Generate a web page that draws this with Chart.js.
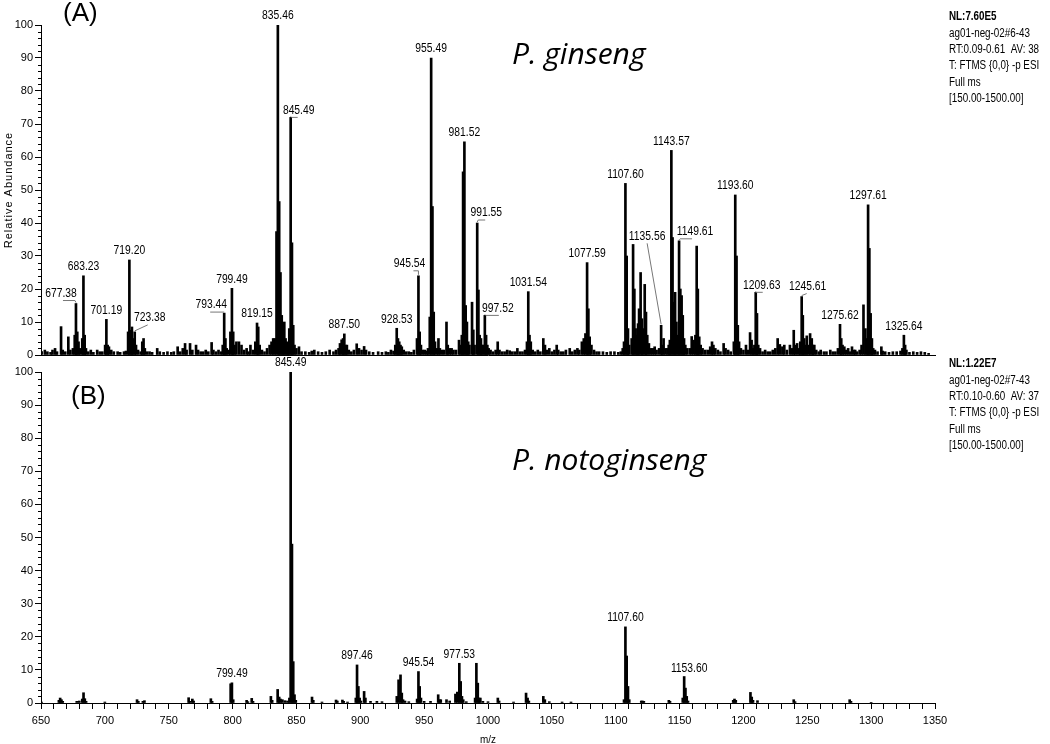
<!DOCTYPE html>
<html>
<head>
<meta charset="utf-8">
<script src="https://cdn.jsdelivr.net/npm/chart.js@4.4.1/dist/chart.umd.min.js"></script>
<style>
body{margin:0;background:#fff;}
#wrap{position:relative;width:1050px;height:744px;}
canvas{position:absolute;left:0;top:0;}
</style>
</head>
<body>
<div id="wrap">
<canvas id="specA" width="1050" height="744"></canvas>
<canvas id="specB" width="1050" height="744"></canvas>
</div>
<script>
//---------------- data [m/z, relative abundance] ----------------
var peaksA = [[650.5,1],[653,1.5],[655,1],[657.5,0.8],[659,1.5],[661,2],[662.5,1],[665.7,8.6],[667,1.5],[669,1],[671.4,5.5],[673,1.5],[675,2],[676.4,6],[677.38,15.6],[678.4,7],[679.4,4],[680.5,2],[682.3,5],[683.23,24],[684.2,6],[685.2,2],[687,1],[689,1.5],[691,0.8],[694,1.5],[696,1],[698,1],[700.2,3],[701.19,10.8],[702.2,3],[703.2,2.5],[705,1.5],[707,1],[710,1],[712,0.8],[715,1],[716.5,1.2],[718.2,7],[719.2,28.8],[720.2,7.5],[721.2,8.5],[722.2,5],[723.38,7],[724.4,3],[726,1.5],[728,1],[729.3,4],[730.3,5],[731.3,2],[733,1],[735,1],[737,0.8],[741,2],[743,1],[746,0.8],[749,1],[752,0.8],[754,1],[757,2.5],[759,1],[761,2],[762.8,3.5],[764,1.5],[766.7,3.5],[768.5,1.5],[771.4,3],[773,1.5],[775,1],[777,1],[779,1.5],[781,1],[783.6,3.8],[785,1.5],[787,1],[789,1.5],[791,1],[792.3,3],[793.44,12.7],[794.4,5],[795.4,2],[797,1.5],[798.3,7],[799.49,20.2],[800.5,7],[801.5,3],[803,4],[805,4],[807,3],[809,1.5],[811,2],[812.5,1],[814,3],[816,1.5],[817.8,4],[819.15,9.7],[820.1,8.5],[821.2,3],[823,1.5],[825,1],[827,2],[829,3],[830.5,4],[831.8,5],[833,5],[834.4,37.4],[835.46,100],[836.5,46.5],[837.5,25],[838.5,12],[839.5,6],[840.5,10],[841.5,5],[842.5,4],[843.5,2],[844.4,8],[845.49,72],[846.5,34],[847.5,9],[848.5,3],[850,2],[852,2.5],[854,1],[857,1],[860,0.8],[862,1.2],[864,1.5],[867,1],[870,0.8],[873,1],[876,1.5],[879,1],[881,1.5],[883,2],[884.1,3.5],[885.4,4.6],[886.5,5],[887.5,6.4],[888.5,3],[889.5,3],[891,1.5],[893,1],[895,1.5],[897.2,3.4],[899,2],[901,1.5],[903,2.6],[904.5,1.5],[907,1],[910,0.8],[914,1],[917,0.8],[920,1],[922,0.8],[924,1.5],[926,1.2],[927.4,3],[928.53,8.1],[929.5,5],[930.5,4],[931.5,3],[932.5,2.5],[934,1.5],[936,1],[938,1],[940,0.8],[942,1.5],[944.4,5],[945.54,24],[946.5,7],[947.5,3],[949,1.5],[950.5,1.5],[952,1.2],[953,2],[954.4,11.5],[955.49,90],[956.5,45],[957.5,13],[958.5,4],[960,2],[961.2,5],[962.3,2],[964,1.5],[965.5,1.5],[967.5,10],[968.5,3],[970,2],[971.5,2],[973,1.5],[975,1.5],[977.3,4.5],[978.5,3],[979.5,6],[980.5,55.5],[981.52,64.6],[982.5,15],[983.5,10],[984.5,4],[985.5,3],[987.5,16],[988.5,7.6],[989.5,3],[991.55,40],[992.5,19.7],[993.5,6],[994.5,5],[995.5,3],[996.5,3],[997.52,12],[998.5,6],[999.5,3],[1000.5,2],[1002,1.5],[1004,1],[1006,1.5],[1007.6,4],[1009,1.5],[1011,1],[1013,1],[1015,1.5],[1017,1.3],[1019,1],[1021,1],[1023,2],[1025,1],[1027,1],[1029,1.5],[1030.5,4],[1031.54,19.2],[1032.5,6],[1033.5,4],[1035,1.5],[1037,1],[1039,1.5],[1041,1],[1043.3,5],[1044.6,3],[1046,1.5],[1048,2],[1050,1],[1052,1.5],[1053.8,3],[1055,1.5],[1057,1],[1059,1],[1061,1.5],[1064,2],[1066,1],[1068,1.5],[1070,2],[1071.5,1.5],[1073.5,4],[1075,5],[1076.3,6.5],[1077.59,28],[1078.6,14],[1079.6,5.5],[1081,3],[1083,1.5],[1085,1],[1087,1],[1090,1],[1093,0.8],[1096,1],[1099,1],[1102,0.8],[1104,1],[1105.5,2],[1106.5,4],[1107.6,52],[1108.6,30],[1109.6,8],[1110.6,3],[1112.5,5],[1113.6,33.5],[1114.6,20],[1115.6,8],[1116.6,6],[1117.5,9.5],[1118.3,14],[1119.5,25],[1120.5,11],[1121.5,8],[1122.7,21.4],[1123.7,13],[1124.7,6],[1126,3.5],[1127.5,2],[1129,2],[1130.5,2.5],[1132,1.5],[1134,2],[1135.56,9],[1136.5,3],[1137.5,5],[1139,2],[1140.5,2],[1141.5,3],[1142.4,4.5],[1143.57,62],[1144.5,35.6],[1145.5,16],[1146.5,19],[1147.5,10],[1148.5,6],[1149.61,34.6],[1150.6,20],[1151.6,18],[1152.5,12],[1153.5,5],[1154.5,3],[1156,2],[1158,2],[1159.5,5.6],[1161,4.5],[1162.4,6],[1163.4,33],[1164.3,20],[1165.4,5.5],[1166.5,3],[1168,2],[1170,1.5],[1172,1.5],[1174,2.5],[1175.4,4],[1176.5,3],[1178,2],[1180,1.5],[1182,1],[1184.5,3.5],[1186,2],[1188,1.5],[1190,1],[1192.5,4],[1193.6,48.5],[1194.6,30],[1195.6,9],[1196.6,4],[1198,2],[1200,1.5],[1202,3],[1203.5,1.5],[1205.2,6.8],[1206.4,4.5],[1207.5,2],[1208.6,3],[1209.63,19],[1210.6,12.6],[1211.6,3],[1213,2],[1215,1],[1217,1.5],[1219,1],[1221,1],[1223,1.5],[1225,2],[1226.8,5],[1228.5,3.2],[1230.5,2.5],[1232,3],[1234,1.5],[1236.4,3],[1238,2],[1239.4,7.5],[1240.5,3],[1242,3.5],[1243.5,2],[1244.5,4],[1245.61,17.7],[1246.5,12],[1247.6,5],[1248.6,3],[1249.6,5.8],[1251,3],[1252.2,6.5],[1253.5,5],[1254.5,3],[1255.5,3],[1257,1.5],[1259,1],[1260.5,1.5],[1263,1],[1265,1],[1268,1.5],[1270,1],[1272,1],[1274,2],[1275.62,9.3],[1276.6,5],[1277.6,3],[1279,2.5],[1280.5,1.5],[1282,2],[1283.5,1],[1285,2.5],[1286.5,1.5],[1287.5,1.5],[1289,1],[1291,1.5],[1292.5,3],[1294,15.2],[1295.5,8],[1296.5,5],[1297.61,45.5],[1298.6,32.3],[1299.6,12.6],[1300.6,5],[1301.6,2],[1303,1.5],[1305,1],[1308,2.5],[1309,1.2],[1311,1],[1314,0.8],[1317,1],[1320,1],[1323,1.2],[1324.5,2],[1325.64,6],[1326.6,3],[1327.6,1.5],[1330,0.8],[1333,1],[1336,0.8],[1339,1],[1342,0.8],[1345,0.5]];

var peaksB = [[650.5,0.3],[664,0.8],[665,1.5],[666,1],[667,0.5],[678,0.5],[680,0.6],[682.3,1.2],[683.3,3.1],[684.3,1.3],[685.3,0.5],[700,0.3],[725.2,1],[726.2,0.5],[729.8,0.5],[731,0.7],[765.6,1.6],[766.5,0.5],[768.5,1.2],[769.5,0.6],[783,1.3],[784,0.5],[798.5,5.8],[799.49,6.1],[800.5,1],[811,0.8],[812,0.4],[815,1.4],[816,0.5],[830,2],[831,0.8],[835.3,4.1],[836.5,1.8],[837.5,1.2],[839,1],[841,0.7],[843,0.6],[844.5,1.5],[845.49,100],[846.5,48],[847.5,12.5],[848.5,2.5],[849.5,0.8],[862.2,1.8],[863.2,0.8],[870,0.3],[881,0.9],[882,0.6],[886,0.9],[887,0.5],[890,0.3],[896.5,1.5],[897.46,11.5],[898.5,5],[899.5,1.5],[900.5,0.6],[903,3.5],[904,1.5],[908,0.5],[913,0.5],[917,0.4],[928.6,2],[930,7],[931.5,8.5],[932.5,3],[933.5,1],[935,0.6],[938,0.4],[944.5,1.2],[945.54,9.5],[946.5,5],[947.5,1.5],[950,0.5],[955,0.5],[961,2.5],[962,1],[963,1],[967.5,1],[970,0.6],[974.5,2.7],[976,3.3],[977.53,12],[978.6,6.5],[979.6,2],[980.6,1],[983,0.4],[989.9,1.5],[990.9,12],[992,6],[993,1.5],[994,1.5],[996,0.5],[1000,0.4],[1007.7,1.5],[1008.7,0.6],[1020,0.3],[1029.8,3],[1031,1.5],[1032,0.6],[1043.3,2],[1044.5,1],[1048,0.4],[1058,0.3],[1065,0.3],[1106.5,1],[1107.6,23],[1108.6,14.2],[1109.6,5],[1110.6,1],[1120,0.6],[1121,0.6],[1122,0.5],[1141.6,0.8],[1142.5,0.5],[1152.5,1.5],[1153.6,8],[1154.6,4.5],[1155.6,2],[1156.6,0.6],[1192,0.8],[1193,1.2],[1194,0.8],[1205.5,3.2],[1206.5,1.8],[1207.5,0.8],[1211,0.7],[1239.4,1],[1240.4,0.4],[1283.2,1],[1284.2,0.5],[1300,0.2]];

var labelsA = ['677.38','683.23','701.19','719.20','723.38','793.44','799.49','819.15','835.46','845.49','887.50','928.53','945.54','955.49','981.52','991.55','997.52','1031.54','1077.59','1107.60','1135.56','1143.57','1149.61','1193.60','1209.63','1245.61','1275.62','1297.61','1325.64'];
var labelsB = ['799.49','845.49','897.46','945.54','977.53','1107.60','1153.60'];

var infoA = ['NL:7.60E5','ag01-neg-02#6-43','RT:0.09-0.61  AV: 38','T: FTMS {0,0} -p ESI','Full ms','[150.00-1500.00]'];
var infoB = ['NL:1.22E7','ag01-neg-02#7-43','RT:0.10-0.60  AV: 37','T: FTMS {0,0} -p ESI','Full ms','[150.00-1500.00]'];

var xTickLabels = [650,700,750,800,850,900,950,1000,1050,1100,1150,1200,1250,1300,1350];
var yTickLabels = [0,10,20,30,40,50,60,70,80,90,100];

//---------------- label placement (offset from peak top, leader underline span) ----------------
var placeA = {
    '677.38': {dx:-15, dy:-10, u:[2,14]},
    '723.38': {dx:15, dy:-14, u:[-2,-2]},
    '793.44': {dx:-13, dy:-8, u:[-1,12]},
    '845.49': {dx:8, dy:-7, u:[-7,-1]},
    '945.54': {dx:-9, dy:-12, u:[4,9]},
    '991.55': {dx:9, dy:-10, u:[-8,-1]},
    '997.52': {dx:13, dy:-7, u:[-12,1]},
    '1135.56': {dx:-14, dy:-89, u:[0,0]},
    '1149.61': {dx:16, dy:-9, u:[-15,-3]},
    '1209.63': {dx:6, dy:-7, u:[-6,1]},
    '1245.61': {dx:6, dy:-10, u:[-1,-1]}
};
var placeB = {
    '1153.60': {dx:5, dy:-8}
};

var SANS = "'Liberation Sans', Arial, sans-serif";

function toPoints(p) {
    return p.map(function (d) { return {x: d[0], y: d[1]}; });
}

// text squeezed sideways, the spectrum software uses a narrow font
function narrowText(ctx, txt, x, y, sx) {
    ctx.save();
    ctx.translate(x, y);
    ctx.scale(sx, 1);
    ctx.fillText(txt, 0, 0);
    ctx.restore();
}

// draws everything Chart.js has no option for: minor ticks, peak labels, side notes
function specLayer(cfg) {
    return {
        id: 'spec' + cfg.tag,
        afterDraw: function (chart) {
            var ctx = chart.ctx, xs = chart.scales.x, ys = chart.scales.y, a = chart.chartArea;
            var pts = chart.data.datasets[0].data;
            ctx.save();
            ctx.strokeStyle = '#000';
            ctx.lineWidth = 1;
            for (var v = 2; v < 100; v += 2) {
                if (v % 10 === 0) continue;
                var yy = Math.round(ys.getPixelForValue(v)) + 0.5;
                ctx.beginPath();
                ctx.moveTo(a.left - 3, yy);
                ctx.lineTo(a.left, yy);
                ctx.stroke();
            }

            // peak labels
            ctx.font = '12px ' + SANS;
            ctx.textAlign = 'center';
            ctx.textBaseline = 'middle';
            ctx.fillStyle = '#000';
            cfg.labels.forEach(function (txt) {
                var mz = parseFloat(txt), best = pts[0];
                pts.forEach(function (p) { if (Math.abs(p.x - mz) < Math.abs(best.x - mz)) best = p; });
                var px = xs.getPixelForValue(best.x), py = ys.getPixelForValue(best.y);
                var pl = cfg.place[txt] || {dx: 0, dy: -9};
                var tx = px + pl.dx, ty = py + pl.dy;
                narrowText(ctx, txt, tx, ty, 0.86);
                if (pl.u) {
                    ctx.strokeStyle = '#777';
                    var uy = ty + 7;
                    var u0 = tx + pl.u[0], u1 = tx + pl.u[1];
                    var near = Math.abs(u0 - px) < Math.abs(u1 - px) ? u0 : u1;
                    ctx.beginPath();
                    ctx.moveTo(u0, uy);
                    ctx.lineTo(u1, uy);
                    ctx.moveTo(near, uy);
                    ctx.lineTo(px, py - 1);
                    ctx.stroke();
                }
            });

            // instrument notes at the right
            ctx.textAlign = 'left';
            ctx.fillStyle = '#000';
            cfg.info.forEach(function (line, i) {
                ctx.font = (i === 0 ? 'bold ' : '') + '12px ' + SANS;
                narrowText(ctx, line, 949, cfg.infoTop + i * 16.3, 0.82);
            });

            // panel tag and species name
            ctx.textBaseline = 'alphabetic';
            ctx.font = '26px ' + SANS;
            ctx.fillText(cfg.tagText, cfg.tagX, cfg.tagY);
            ctx.font = "italic 30px 'Open Sans', sans-serif";
            ctx.fillText(cfg.species, 512, cfg.speciesY);

            if (cfg.tag === 'A') {
                ctx.save();
                ctx.translate(9, 190);
                ctx.rotate(-Math.PI / 2);
                ctx.textAlign = 'center';
                ctx.textBaseline = 'middle';
                ctx.font = '11px ' + SANS;
                ctx.letterSpacing = '1px';
                ctx.fillText('Relative Abundance', 0, 0);
                ctx.restore();
            } else {
                ctx.textAlign = 'center';
                ctx.textBaseline = 'middle';
                ctx.font = '11px ' + SANS;
                narrowText(ctx, 'm/z', (a.left + a.right) / 2, 740, 0.9);
            }
            ctx.restore();
        }
    };
}

function makeChart(id, peaks, cfg, bottomAxis) {
    var c = document.getElementById(id);
    var xScale = {
        type: 'linear', min: 650, max: 1350, offset: false,
        border: {display: true, color: '#000', width: 1},
        grid: {display: true, drawOnChartArea: false, offset: false, drawTicks: bottomAxis, tickLength: 6, color: '#000'},
        ticks: {
            display: bottomAxis, stepSize: 10, autoSkip: false, maxRotation: 0, padding: 5,
            color: '#000', font: {family: SANS, size: 11},
            callback: function (v) { return xTickLabels.indexOf(v) >= 0 ? String(v) : ''; }
        },
        afterFit: function (s) { s.height = bottomAxis ? 41 : 0; }
    };
    var yScale = {
        min: 0, max: 100,
        border: {display: true, color: '#000', width: 1},
        grid: {display: true, drawOnChartArea: false, drawTicks: true, tickLength: 6, color: '#000'},
        ticks: {
            stepSize: 10, padding: 2, color: '#000', font: {family: SANS, size: 11},
            callback: function (v) { return yTickLabels.indexOf(v) >= 0 ? String(v) : ''; }
        },
        afterFit: function (s) { s.width = 41; }
    };
    return new Chart(c, {
        type: 'bar',
        data: {
            datasets: [{
                data: toPoints(peaks),
                backgroundColor: '#000',
                borderWidth: 0,
                barThickness: 2
            }]
        },
        options: {
            responsive: false,
            animation: false,
            devicePixelRatio: 1,
            layout: {padding: cfg.padding},
            plugins: {legend: {display: false}, tooltip: {enabled: false}, title: {display: false}},
            scales: {x: xScale, y: yScale}
        },
        plugins: [specLayer(cfg)]
    });
}

makeChart('specA', peaksA, {
    tag: 'A', tagText: '(A)', tagX: 63, tagY: 21,
    species: 'P. ginseng', speciesY: 64,
    labels: labelsA, place: placeA, info: infoA, infoTop: 17,
    padding: {top: 25, bottom: 389, left: 0, right: 115}
}, false);

makeChart('specB', peaksB, {
    tag: 'B', tagText: '(B)', tagX: 71, tagY: 404,
    species: 'P. notoginseng', speciesY: 470,
    labels: labelsB, place: placeB, info: infoB, infoTop: 364,
    padding: {top: 372, bottom: 0, left: 0, right: 115}
}, true);
</script>
</body>
</html>
